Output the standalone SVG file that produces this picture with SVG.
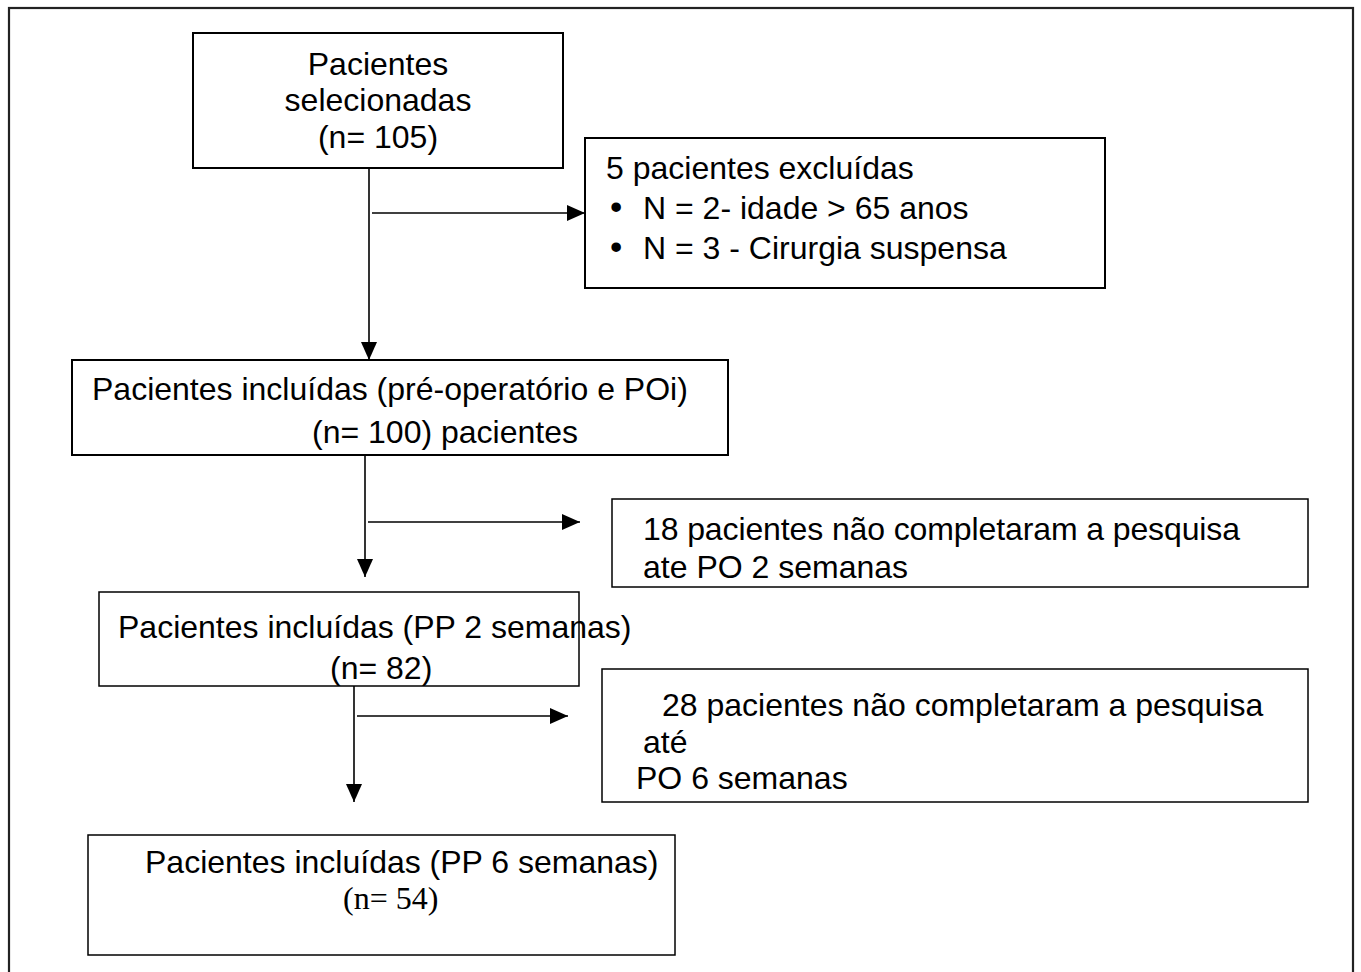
<svg xmlns="http://www.w3.org/2000/svg" width="1361" height="972" viewBox="0 0 1361 972">
<style>
.box{fill:#fff;stroke:#000;stroke-width:2}
.thin{stroke-width:1.5}
.t{font-family:"Liberation Sans",Arial,sans-serif;font-size:32px;fill:#000}
.s{font-family:"Liberation Serif","Times New Roman",serif;font-size:32px;fill:#000}
.b{font-size:35px}
.c{text-anchor:middle}
.con line{stroke:#000;stroke-width:1.6;fill:none}
</style>
<defs>
<marker id="ah" viewBox="0 0 18 16" refX="18" refY="8" markerWidth="18" markerHeight="16" markerUnits="userSpaceOnUse" orient="auto">
<path d="M0,0 L18,8 L0,16 Z" fill="#000"/>
</marker>
</defs>
<rect width="1361" height="972" fill="#fff"/>
<rect x="9" y="8" width="1344" height="1000" fill="none" stroke="#222" stroke-width="2.2"/>

<g class="con" id="connectors">
<line x1="369" y1="168" x2="369" y2="360" marker-end="url(#ah)"/>
<line x1="372" y1="213" x2="585" y2="213" marker-end="url(#ah)"/>
<line x1="365" y1="455" x2="365" y2="577" marker-end="url(#ah)"/>
<line x1="368" y1="522" x2="580" y2="522" marker-end="url(#ah)"/>
<line x1="354" y1="686" x2="354" y2="802" marker-end="url(#ah)"/>
<line x1="357" y1="716" x2="568" y2="716" marker-end="url(#ah)"/>
</g>

<g id="n1">
<rect class="box" x="193" y="33" width="370" height="135" stroke-width="2.5"/>
<text class="t c" x="378" y="75">Pacientes</text>
<text class="t c" x="378" y="111">selecionadas</text>
<text class="t c" x="378" y="148">(n= 105)</text>
</g>

<g id="n2">
<rect class="box" x="585" y="138" width="520" height="150" stroke-width="2.5"/>
<text class="t" x="606" y="179">5 pacientes excluídas</text>
<text class="t" x="610" y="219"><tspan class="b">•</tspan><tspan x="643">N = 2- idade &gt; 65 anos</tspan></text>
<text class="t" x="610" y="259"><tspan class="b">•</tspan><tspan x="643">N = 3 - Cirurgia suspensa</tspan></text>
</g>

<g id="n3">
<rect class="box" x="72" y="360" width="656" height="95" stroke-width="2.5"/>
<text class="t" x="92" y="400">Pacientes incluídas (pré-operatório e POi)</text>
<text class="t" x="312" y="443">(n= 100) pacientes</text>
</g>

<g id="n4">
<rect class="box thin" x="612" y="499" width="696" height="88"/>
<text class="t" x="643" y="540" textLength="597">18 pacientes não completaram a pesquisa</text>
<text class="t" x="643" y="578">ate PO 2 semanas</text>
</g>

<g id="n5">
<text class="t" x="118" y="638">Pacientes incluídas (PP 2 semanas)</text>
<rect class="box thin" x="99" y="592" width="480" height="94" style="fill:none"/>
<text class="t" x="330" y="679">(n= 82)</text>
</g>

<g id="n6">
<rect class="box thin" x="602" y="669" width="706" height="133"/>
<text class="t" x="662" y="716">28 pacientes não completaram a pesquisa</text>
<text class="t" x="643" y="753">até</text>
<text class="t" x="636" y="789">PO 6 semanas</text>
</g>

<g id="n7">
<rect class="box thin" x="88" y="835" width="587" height="120"/>
<text class="t" x="145" y="873">Pacientes incluídas (PP 6 semanas)</text>
<text class="s" x="343" y="909">(n= 54)</text>
</g>
</svg>
